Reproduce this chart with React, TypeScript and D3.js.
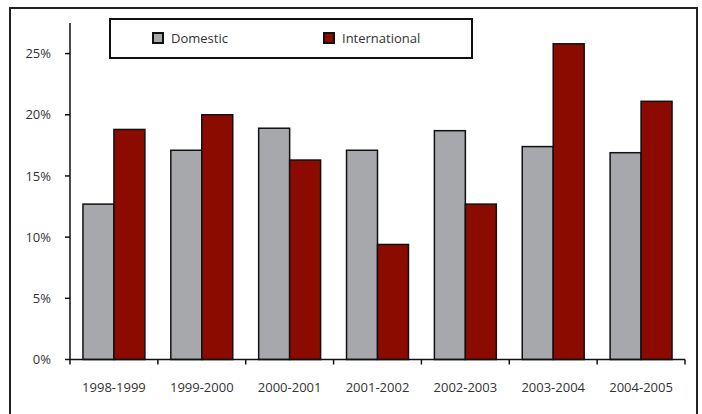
import React, { useEffect, useRef } from 'react';
import * as d3 from 'd3';

const years = ['1998-1999', '1999-2000', '2000-2001', '2001-2002', '2002-2003', '2003-2004', '2004-2005'];
const domestic = [12.7, 17.1, 18.9, 17.1, 18.7, 17.4, 16.9];
const international = [18.8, 20.0, 16.3, 9.4, 12.7, 25.8, 21.1];
const seriesNames = ['Domestic', 'International'];
const yTicks = [0, 5, 10, 15, 20, 25];

const colors: Record<string, string> = { Domestic: '#a7a8ac', International: '#8b0b00' };
const FONT = '"Open Sans", "DejaVu Sans", sans-serif';

const App: React.FC = () => {
  const svgRef = useRef<SVGSVGElement>(null);

  useEffect(() => {
    if (!svgRef.current) return;
    const width = 702;
    const height = 414;
    const plot = { left: 70, right: 685, top: 23, bottom: 359.5 };

    const svg = d3.select(svgRef.current).attr('width', width).attr('height', height);
    svg.selectAll('*').remove();

    svg.append('rect').attr('width', width).attr('height', height).style('fill', 'white');

    // outer frame (bottom edge runs off the picture)
    svg.append('rect')
      .attr('x', 10).attr('y', 8)
      .attr('width', 687).attr('height', 420)
      .style('fill', 'none').style('stroke', '#222').style('stroke-width', 2);

    const y = d3.scaleLinear().domain([0, 27.5]).range([plot.bottom, plot.top]);
    const x0 = d3.scaleBand<string>().domain(years).range([plot.left, plot.right]).padding(0);
    const gap = x0.bandwidth() * 0.295;
    const x1 = d3.scaleBand<string>().domain(seriesNames).range([gap / 2, x0.bandwidth() - gap / 2]).padding(0);

    const rows = years.map((yr, i) => ({ year: yr, values: [domestic[i], international[i]] }));

    const groups = svg.append('g').selectAll('g')
      .data(rows)
      .enter().append('g')
      .attr('transform', d => `translate(${x0(d.year)},0)`);

    groups.selectAll('rect')
      .data(d => d.values.map((v, j) => ({ key: seriesNames[j], value: v })))
      .enter().append('rect')
      .attr('x', d => x1(d.key)!)
      .attr('y', d => y(d.value))
      .attr('width', x1.bandwidth())
      .attr('height', d => y(0) - y(d.value))
      .style('fill', d => colors[d.key])
      .style('stroke', '#111')
      .style('stroke-width', 1.5);

    // y axis
    const yAxis = svg.append('g');
    yAxis.append('line')
      .attr('x1', plot.left).attr('x2', plot.left)
      .attr('y1', plot.top).attr('y2', plot.bottom)
      .style('stroke', '#111').style('stroke-width', 1.5);
    yAxis.selectAll('.tick')
      .data(yTicks)
      .enter().append('line')
      .attr('x1', plot.left - 5).attr('x2', plot.left)
      .attr('y1', d => y(d)).attr('y2', d => y(d))
      .style('stroke', '#111').style('stroke-width', 1.5);
    yAxis.selectAll('text')
      .data(yTicks)
      .enter().append('text')
      .attr('x', 51)
      .attr('y', d => y(d))
      .attr('dy', '0.35em')
      .style('text-anchor', 'end')
      .style('font-family', FONT)
      .style('font-size', '13px')
      .style('fill', '#333')
      .text(d => `${d}%`);

    // x axis
    const xAxis = svg.append('g');
    xAxis.append('line')
      .attr('x1', plot.left).attr('x2', plot.right)
      .attr('y1', plot.bottom).attr('y2', plot.bottom)
      .style('stroke', '#111').style('stroke-width', 1.5);
    const edges = years.map(d => x0(d)!).concat([plot.right]);
    xAxis.selectAll('.tick')
      .data(edges)
      .enter().append('line')
      .attr('x1', d => d).attr('x2', d => d)
      .attr('y1', plot.bottom).attr('y2', plot.bottom + 5)
      .style('stroke', '#111').style('stroke-width', 1.5);
    xAxis.selectAll('text')
      .data(years)
      .enter().append('text')
      .attr('x', d => x0(d)! + x0.bandwidth() / 2)
      .attr('y', 392)
      .style('text-anchor', 'middle')
      .style('font-family', FONT)
      .style('font-size', '13px')
      .style('fill', '#333')
      .text(d => d);

    // legend
    const legend = svg.append('g');
    legend.append('rect')
      .attr('x', 110).attr('y', 19)
      .attr('width', 362).attr('height', 39)
      .style('fill', 'white').style('stroke', '#111').style('stroke-width', 2);
    const legendX = [153, 324];
    const items = legend.selectAll('.item')
      .data(seriesNames)
      .enter().append('g')
      .attr('transform', (d, i) => `translate(${legendX[i]},33)`);
    items.append('rect')
      .attr('width', 10).attr('height', 10)
      .style('fill', d => colors[d])
      .style('stroke', '#111').style('stroke-width', 2);
    items.append('text')
      .attr('x', 18).attr('y', 5)
      .attr('dy', '0.35em')
      .style('font-family', FONT)
      .style('font-size', '13px')
      .style('fill', '#333')
      .text(d => d);
  }, []);

  return (
    <div style={{ position: 'absolute', left: 0, top: 0 }}>
      <svg ref={svgRef}></svg>
    </div>
  );
};

export default App;
